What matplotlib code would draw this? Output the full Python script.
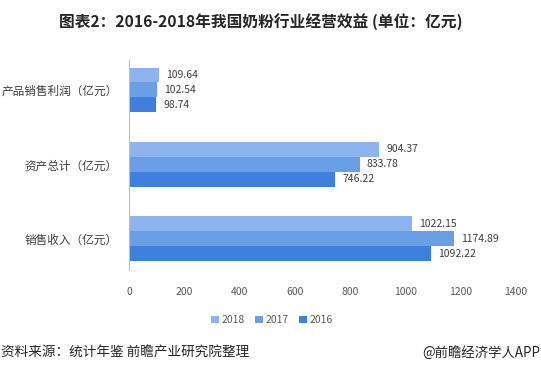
import matplotlib
matplotlib.use("Agg")
import matplotlib.pyplot as plt
import numpy as np

plt.rcParams["font.family"] = ["Noto Sans CJK SC", "DejaVu Sans"]

categories = ["销售收入（亿元）", "资产总计（亿元）", "产品销售利润（亿元）"]
years = ["2018", "2017", "2016"]
values = {
    "2018": [1022.15, 904.37, 109.64],
    "2017": [1174.89, 833.78, 102.54],
    "2016": [1092.22, 746.22, 98.74],
}
colors = {"2018": "#8db4ef", "2017": "#6a9fe8", "2016": "#3f80df"}
xticks = [0, 200, 400, 600, 800, 1000, 1200, 1400]

fig = plt.figure(figsize=(5.41, 3.71), dpi=100)
ax = fig.add_axes([0.2385, 0.272, 0.7155, 0.566])

y = np.arange(len(categories))
h = 0.2
offsets = {"2018": h, "2017": 0.0, "2016": -h}
for yr in years:
    bars = ax.barh(y + offsets[yr], values[yr], height=h, color=colors[yr],
                   label=yr, zorder=2)
    for b, v in zip(bars, values[yr]):
        ax.annotate(f"{v:.2f}", (b.get_width(), b.get_y() + h / 2),
                    xytext=(5, 0), textcoords="offset points",
                    va="center", ha="left", fontsize=7.5, color="#404040")

ax.set_xlim(0, 1400)
ax.set_ylim(-0.42, 2.40)
ax.set_xticks(xticks)
ax.set_xticklabels([str(t) for t in xticks])
ax.set_yticks(y)
ax.set_yticklabels(categories)
ax.tick_params(axis="x", length=0, labelsize=7.5, colors="#595959", pad=12)
ax.tick_params(axis="y", length=0, labelsize=8.4, colors="#404040", pad=8)
for s in ["top", "right", "bottom"]:
    ax.spines[s].set_visible(False)
ax.spines["left"].set_color("#bfbfbf")
ax.spines["left"].set_linewidth(0.8)

ax.legend(loc="upper center", bbox_to_anchor=(0.37, -0.17), ncol=3,
          frameon=False, fontsize=7.5, handlelength=0.7, handleheight=0.7,
          columnspacing=1.0, handletextpad=0.3, labelcolor="#595959")

fig.text(0.483, 0.94, "图表2：2016-2018年我国奶粉行业经营效益 (单位：亿元)",
         ha="center", va="center", fontsize=11.3, fontweight="bold",
         color="#262626")
fig.text(0.002, 0.05, "资料来源：统计年鉴 前瞻产业研究院整理", ha="left",
         va="center", fontsize=9.8, color="#262626")
fig.text(0.998, 0.05, "@前瞻经济学人APP", ha="right", va="center",
         fontsize=9.6, color="#262626")

fig.savefig("out.png", dpi=100)
